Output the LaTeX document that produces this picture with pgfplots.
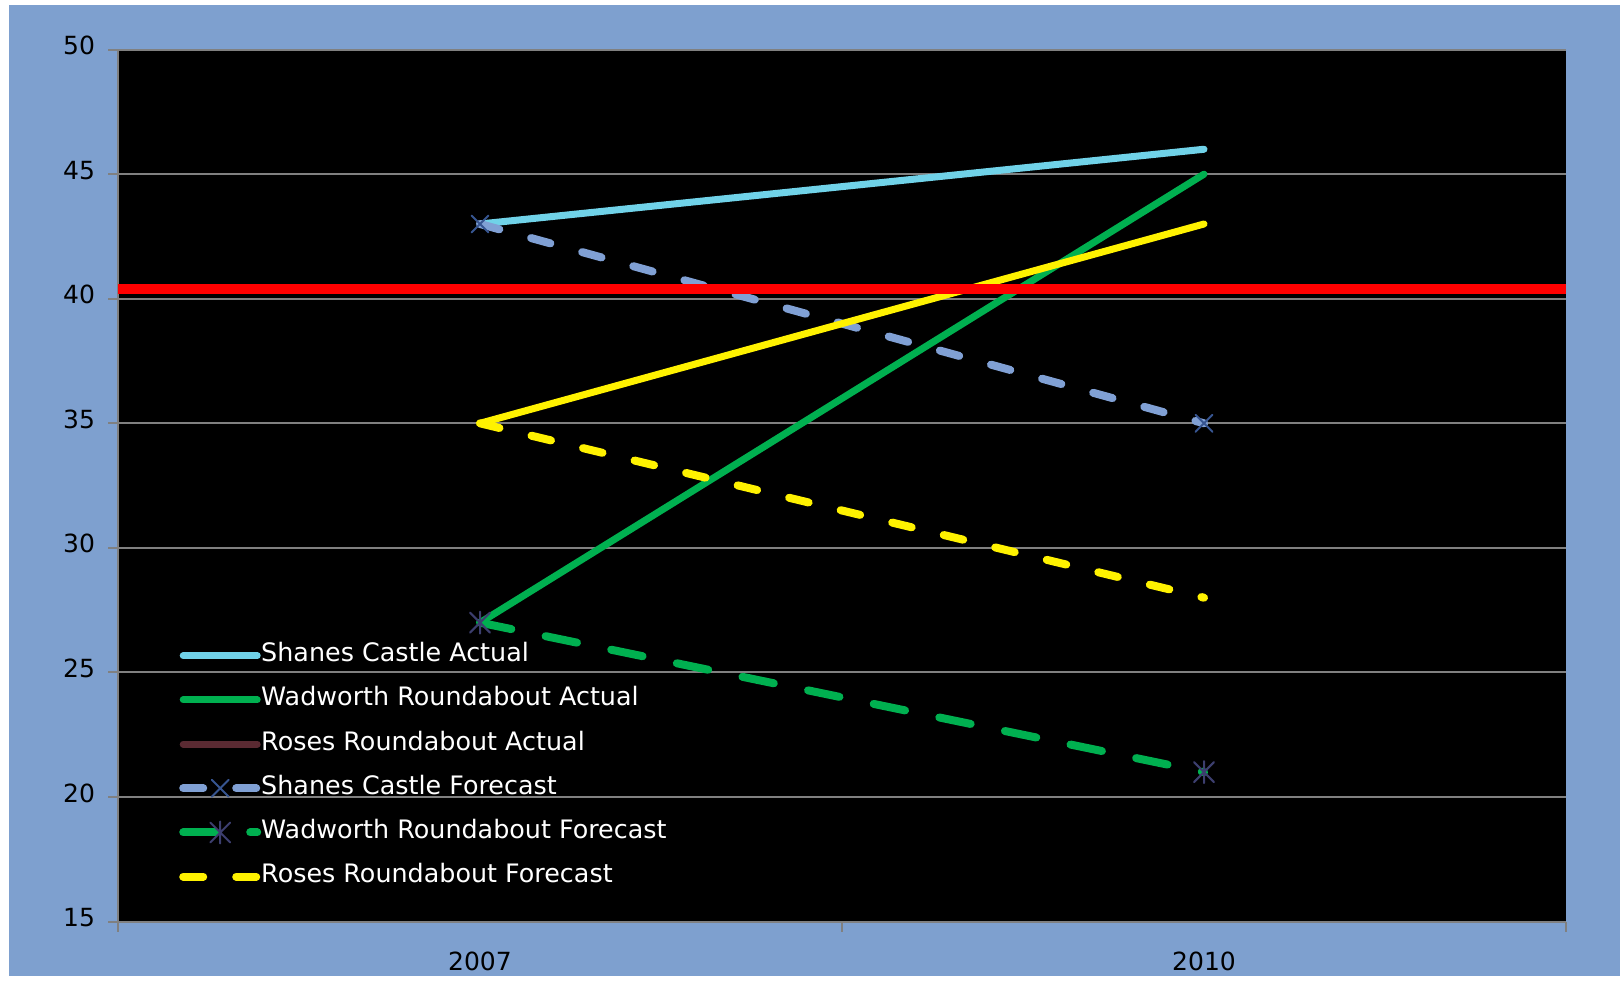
\documentclass[border=0pt]{standalone}
\usepackage{fontspec}
\setmainfont{DejaVu Sans}
\usepackage{pgfplots}
\pgfplotsset{compat=1.18}
\definecolor{bgblue}{RGB}{126,160,207}
\definecolor{scact}{RGB}{112,210,232}
\definecolor{wgreen}{RGB}{0,176,80}
\definecolor{rmaroon}{RGB}{90,42,50}
\definecolor{scfc}{RGB}{128,160,212}
\definecolor{mkblue}{RGB}{55,85,145}
\definecolor{mknavy}{RGB}{60,62,110}
\definecolor{gridgray}{RGB}{128,128,128}
\pgfdeclareplotmark{xstar}{%
  \pgfpathmoveto{\pgfqpoint{-\pgfplotmarksize}{-\pgfplotmarksize}}%
  \pgfpathlineto{\pgfqpoint{\pgfplotmarksize}{\pgfplotmarksize}}%
  \pgfpathmoveto{\pgfqpoint{-\pgfplotmarksize}{\pgfplotmarksize}}%
  \pgfpathlineto{\pgfqpoint{\pgfplotmarksize}{-\pgfplotmarksize}}%
  \pgfpathmoveto{\pgfqpoint{0pt}{-1.1\pgfplotmarksize}}%
  \pgfpathlineto{\pgfqpoint{0pt}{1.1\pgfplotmarksize}}%
  \pgfusepathqstroke}
\begin{document}
\begin{tikzpicture}
\useasboundingbox (-59pt,-31.7pt) rectangle (751pt,460.8pt);
\fill[bgblue] (-54.5pt,-27.2pt) rectangle (751pt,458.3pt);
\begin{axis}[
  scale only axis,
  width=724pt, height=436pt,
  axis background/.style={fill=black},
  xmin=-0.5, xmax=1.5,
  ymin=15, ymax=50,
  ytick={15,20,...,50},
  xtick={-0.5,0.5,1.5},
  xticklabels={},
  x tick style={draw=gridgray, line width=0.8pt},
  extra x ticks={0,1},
  extra x tick labels={2007,2010},
  extra x tick style={grid=none, major tick length=0pt,
    tick style={draw=none}},
  axis x line*=bottom,
  axis y line*=left,
  axis line style={draw=gridgray, line width=1pt, -},
  ymajorgrids,
  grid style={draw=gridgray, line width=1pt},
  y tick style={draw=gridgray, line width=1pt},
  tick align=outside,
  major tick length=5pt,
  /pgf/number format/assume math mode=true,
  tick label style={font=\fontsize{12.5}{14}\selectfont, text=black},
  xticklabel style={yshift=-11.7pt},
  yticklabel style={xshift=-3pt, yshift=2pt},
  legend style={
    at={(0.042,0.035)}, anchor=south west,
    draw=none, fill=none, text=white,
    inner sep=0pt,
    font=\fontsize{12.7}{14}\selectfont,
    row sep=8.1pt,
    nodes={inner sep=0pt, text height=10pt, text depth=4pt},
  },
  legend cell align=left,
  /tikz/every even column/.append style={column sep=0pt},
  legend image code/.code={%
    \draw[mark repeat=2,mark phase=2,#1]
      plot coordinates {(0pt,0pt) (18.5pt,0pt) (37pt,0pt)};},
]
\addplot[scact, line width=3.5pt, line cap=round] coordinates {(0,43) (1,46)};
\addlegendentry{Shanes Castle Actual}
\addplot[wgreen, line width=3.5pt, line cap=round] coordinates {(0,27) (1,45)};
\addlegendentry{Wadworth Roundabout Actual}
\addlegendimage{rmaroon, line width=3.5pt, line cap=round}
\addlegendentry{Roses Roundabout Actual}
\addplot[scfc, line width=4pt, line cap=round, dash pattern=on 10pt off 16.5pt,
  mark=x, mark size=6pt, mark options={draw=mkblue, line width=1pt, solid}]
  coordinates {(0,43) (1,35)};
\addlegendentry{Shanes Castle Forecast}
\addplot[wgreen, line width=4pt, line cap=round, dash pattern=on 16pt off 17.5pt,
  mark=xstar, mark size=5pt, mark options={draw=mknavy, line width=1pt, solid}]
  coordinates {(0,27) (1,21)};
\addlegendentry{Wadworth Roundabout Forecast}
\addplot[yellow, line width=4pt, line cap=round, dash pattern=on 10pt off 16.5pt]
  coordinates {(0,35) (1,28)};
\addlegendentry{Roses Roundabout Forecast}
\addplot[yellow, line width=3.5pt, line cap=round, forget plot]
  coordinates {(0,35) (1,43)};
\addplot[red, line width=5pt, forget plot]
  coordinates {(-0.5,40.4) (1.5,40.4)};
\end{axis}
\end{tikzpicture}
\end{document}
